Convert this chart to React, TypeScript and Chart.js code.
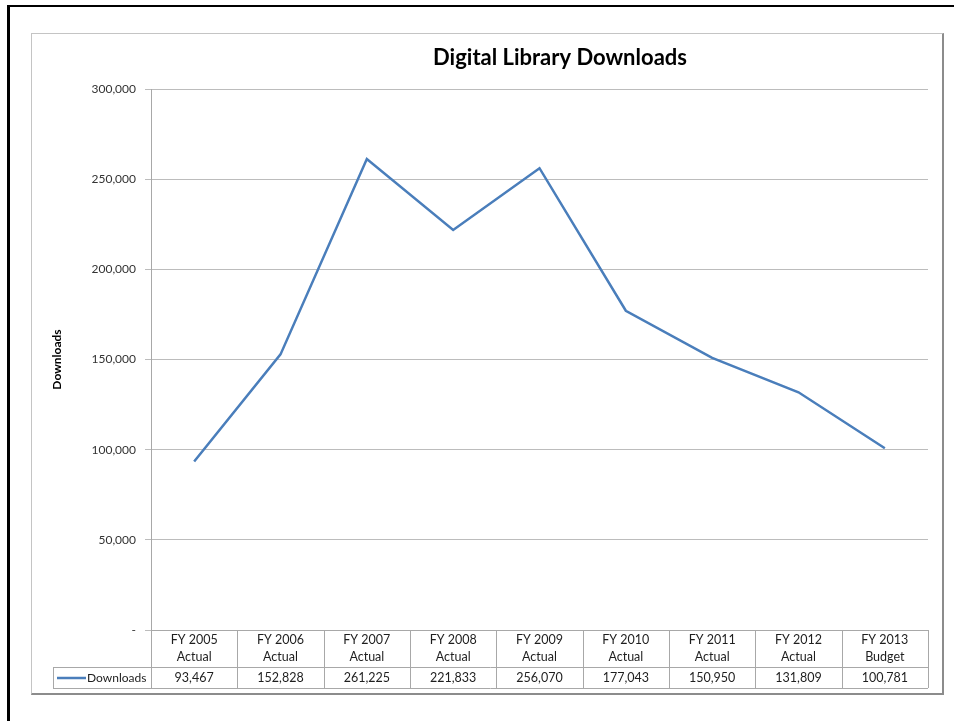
import React, { useEffect, useRef } from "react";
import { Chart, registerables } from "chart.js";

Chart.register(...registerables);

const fiscalYears = ["FY 2005", "FY 2006", "FY 2007", "FY 2008", "FY 2009", "FY 2010", "FY 2011", "FY 2012", "FY 2013"];
const yearTypes = ["Actual", "Actual", "Actual", "Actual", "Actual", "Actual", "Actual", "Actual", "Budget"];
const downloads = [93467, 152828, 261225, 221833, 256070, 177043, 150950, 131809, 100781];
const seriesName = "Downloads";
const chartTitle = "Digital Library Downloads";
const yTicks = [0, 50000, 100000, 150000, 200000, 250000, 300000];

const FONT = "Lato, 'Open Sans', sans-serif";
const LINE_COLOR = "#4a7ebb";
const TABLE_LINE = "#a8a8a8";
const TEXT = "#1e1e1e";

const fmt = (v: number) => v.toLocaleString("en-US");

const titlePlugin = {
  id: "customTitle",
  afterDraw(chart: any) {
    const ctx = chart.ctx;
    ctx.save();
    ctx.font = `bold 22px ${FONT}`;
    ctx.fillStyle = "#000";
    ctx.textAlign = "center";
    ctx.textBaseline = "alphabetic";
    ctx.fillText(chartTitle, 528, 31);
    ctx.restore();
  },
};

const tablePlugin = {
  id: "dataTable",
  afterDraw(chart: any) {
    const ctx = chart.ctx;
    const area = chart.chartArea;
    const n = fiscalYears.length;
    const colW = (area.right - area.left) / n;
    const top = area.bottom;
    const headerBottom = top + 37;
    const tableBottom = headerBottom + 21;
    const legendLeft = 21;
    const xs = chart.scales.x;

    ctx.save();
    ctx.strokeStyle = TABLE_LINE;
    ctx.lineWidth = 1;
    const hline = (x1: number, x2: number, y: number) => {
      ctx.beginPath();
      ctx.moveTo(x1, Math.round(y) + 0.5);
      ctx.lineTo(x2, Math.round(y) + 0.5);
      ctx.stroke();
    };
    const vline = (x: number, y1: number, y2: number) => {
      ctx.beginPath();
      ctx.moveTo(Math.round(x) + 0.5, y1);
      ctx.lineTo(Math.round(x) + 0.5, y2);
      ctx.stroke();
    };
    hline(area.left, area.right, top);
    hline(legendLeft, area.right, headerBottom);
    hline(legendLeft, area.right, tableBottom);
    for (let i = 0; i <= n; i++) {
      vline(area.left + i * colW, top, tableBottom);
    }
    vline(legendLeft, headerBottom, tableBottom);

    ctx.fillStyle = TEXT;
    ctx.textAlign = "center";
    ctx.textBaseline = "middle";
    ctx.font = `12.5px ${FONT}`;
    for (let i = 0; i < n; i++) {
      const cx = xs.getPixelForValue(i);
      ctx.fillText(fiscalYears[i], cx, top + 10);
      ctx.fillText(yearTypes[i], cx, top + 27);
      ctx.fillText(fmt(downloads[i]), cx, headerBottom + 11);
    }

    // legend key
    ctx.strokeStyle = LINE_COLOR;
    ctx.lineWidth = 2.5;
    ctx.beginPath();
    ctx.moveTo(25, headerBottom + 11);
    ctx.lineTo(54, headerBottom + 11);
    ctx.stroke();
    ctx.textAlign = "left";
    ctx.font = `12px ${FONT}`;
    ctx.fillText(seriesName, 55, headerBottom + 11);
    ctx.restore();
  },
};

export default function App() {
  const canvasRef = useRef<HTMLCanvasElement | null>(null);

  useEffect(() => {
    if (!canvasRef.current) return;
    const chart = new Chart(canvasRef.current, {
      type: "line",
      data: {
        labels: fiscalYears.map((y, i) => `${y} ${yearTypes[i]}`),
        datasets: [
          {
            label: seriesName,
            data: downloads,
            borderColor: LINE_COLOR,
            backgroundColor: LINE_COLOR,
            borderWidth: 2.5,
            pointRadius: 0,
            tension: 0,
          },
        ],
      },
      options: {
        animation: false,
        responsive: false,
        maintainAspectRatio: false,
        layout: { padding: { left: 0, right: 14, top: 55, bottom: 63 } },
        plugins: {
          legend: { display: false },
          title: { display: false },
          tooltip: { enabled: false },
        },
        scales: {
          x: {
            type: "category",
            display: false,
            offset: true,
          },
          y: {
            min: 0,
            max: 300000,
            afterBuildTicks: (s: any) => {
              s.ticks = yTicks.map((v) => ({ value: v }));
            },
            afterFit: (s: any) => {
              s.width = 119;
            },
            ticks: {
              callback: (v: any) => (Number(v) === 0 ? "-" : fmt(Number(v))),
              font: { family: FONT, size: 12 },
              color: "#333",
              padding: 9,
            },
            grid: {
              color: "#bcbcbc",
              lineWidth: 1,
              tickLength: 6,
              tickColor: "#bcbcbc",
              drawTicks: true,
            },
            border: { display: true, color: "#a8a8a8" },
            title: {
              display: true,
              text: seriesName,
              font: { family: FONT, size: 12, weight: "bold" },
              color: "#000",
              padding: { top: 18, bottom: 4 },
            },
          },
        },
      },
      plugins: [titlePlugin, tablePlugin],
    } as any);
    return () => chart.destroy();
  }, []);

  return (
    <div style={{ position: "absolute", left: 0, top: 0, width: 954, height: 721, overflow: "hidden", background: "#fff" }}>
      <div
        style={{
          position: "absolute",
          left: 7,
          top: 5,
          width: 1000,
          height: 800,
          borderTop: "2px solid #000",
          borderLeft: "3px solid #000",
        }}
      />
      <div
        style={{
          position: "absolute",
          left: 31,
          top: 33,
          width: 910,
          height: 659,
          borderTop: "1px solid #c4c4c4",
          borderLeft: "1px solid #c4c4c4",
          borderRight: "2px solid #8c8c8c",
          borderBottom: "2px solid #8c8c8c",
          background: "#fff",
        }}
      >
        <canvas ref={canvasRef} width={910} height={659} style={{ display: "block", width: 910, height: 659 }} />
      </div>
    </div>
  );
}
